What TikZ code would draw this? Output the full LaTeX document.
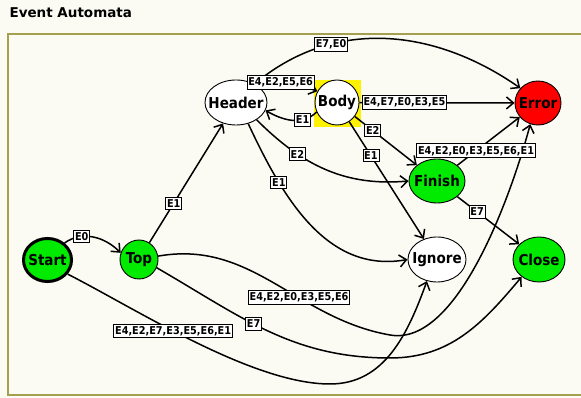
\documentclass[tikz,border=0pt]{standalone}
\usepackage{fontspec}
\setmainfont{DejaVu Sans Condensed}
\newfontfamily\titlefont{DejaVu Sans}
\usetikzlibrary{shapes.geometric,arrows.meta}

\definecolor{panelbg}{RGB}{251,251,243}
\definecolor{panelline}{RGB}{165,160,80}
\definecolor{stategreen}{RGB}{0,235,0}
\newcommand{\statename}[1]{\makebox[0pt]{#1}}

\begin{document}
\begin{tikzpicture}
[x=1pt, y=1pt,
 state/.style={ellipse, draw, line width=0.9pt, fill=white, inner sep=0pt,
   font=\fontsize{15}{15}\selectfont\bfseries},
 evt/.style={draw, line width=0.8pt, fill=white, inner xsep=1.3pt, inner ysep=2.2pt,
   font=\fontsize{10.8}{10.8}\selectfont\bfseries},
 trans/.style={line width=1.5pt, -{Straight Barb[length=7pt,width=12pt]}}]
    \fill[panelbg] (0,0) rectangle (581,398);
    \useasboundingbox (0,0) rectangle (581,398);
    \clip (0,0) rectangle (581,398);
    \node[anchor=west, font=\titlefont\fontsize{13.5}{13.5}\selectfont\bfseries] (title) at (6,385) {Event Automata};
    % panel frame
    \draw[panelline, line width=2pt] (8,3) rectangle (600,364);
    % bends of the long transitions
    \coordinate (sdip) at (330,14);
    \coordinate (tdip) at (390,63);
    \coordinate (cdip) at (390,40);
    % states
    \node[fill=yellow, minimum size=47pt, inner sep=0pt] (bodysel) at (337.5,294.5) {};
    \node[state, fill=stategreen, line width=3pt, minimum width=48pt, minimum height=43pt] (start) at (47.5,138) {\statename{Start}};
    \node[state, fill=stategreen, minimum width=38pt, minimum height=39pt] (top) at (139,138.5) {\statename{Top}};
    \node[state, minimum width=62pt, minimum height=45pt] (header) at (236,295.5) {\statename{Header}};
    \node[state, minimum width=44pt, minimum height=45pt] (body) at (337,295.5) {\statename{Body}};
    \node[state, fill=red, minimum width=46pt, minimum height=44pt] (error) at (538,295) {\statename{Error}};
    \node[state, fill=stategreen, minimum width=56pt, minimum height=44pt] (finish) at (437,217) {\statename{Finish}};
    \node[state, minimum width=58pt, minimum height=45pt] (ignore) at (437,138.5) {\statename{Ignore}};
    \node[state, fill=stategreen, minimum width=52pt, minimum height=45pt] (close) at (539,138.5) {\statename{Close}};
    % transitions
    \draw[trans] (start.45) to[out=35, in=135] node[evt, pos=0.3] (lstop) {E0} (top.160);
    \draw[trans] (start.-35) to[out=-27, in=180, looseness=0.7] node[evt, pos=0.42] (lsig) {E4,E2,E7,E3,E5,E6,E1} (sdip)
        to[out=0, in=-110] (ignore.-115);
    \draw[trans] (top) -- node[evt, pos=0.33] (lthe) {E1} (header);
    \draw[trans] (top.10) to[out=10, in=170] node[evt, pos=0.62] (lter) {E4,E2,E0,E3,E5,E6} (tdip)
        to[out=-10, in=-105, looseness=0.7] (error.-110);
    \draw[trans] (top.-25) to[out=-30, in=180] node[evt, pos=0.43] (ltcl) {E7} (cdip)
        to[out=0, in=-130] (close.-135);
    \draw[trans] (header.45) to[out=40, in=145] node[evt, pos=0.3] (lher) {E7,E0} (error.140);
    \draw[trans] (header.50) to[bend left=12] node[evt, pos=0.42] (lhbo) {E4,E2,E5,E6} (body.150);
    \draw[trans] (body.205) to[out=-135, in=-30] node[evt, pos=0.3] (lbhe) {E1} (header.-15);
    \draw[trans] (body) -- node[evt, pos=0.29] (lber) {E4,E7,E0,E3,E5} (error);
    \draw[trans] (body) -- node[evt, pos=0.29] (lbfi) {E2} (finish);
    \draw[trans] (body) -- node[evt, pos=0.29] (lbig) {E1} (ignore);
    \draw[trans] (header.-40) to[out=-45, in=185] node[evt, pos=0.3] (lhfi) {E2} (finish.west);
    \draw[trans] (header.-60) to[out=-65, in=190] node[evt, pos=0.27] (lhig) {E1} (ignore.west);
    \draw[trans] (finish) -- node[evt, pos=0.3] (lfer) {E4,E2,E0,E3,E5,E6,E1} (error);
    \draw[trans] (finish) -- node[evt, pos=0.32] (lfcl) {E7} (close);
\end{tikzpicture}
\end{document}
